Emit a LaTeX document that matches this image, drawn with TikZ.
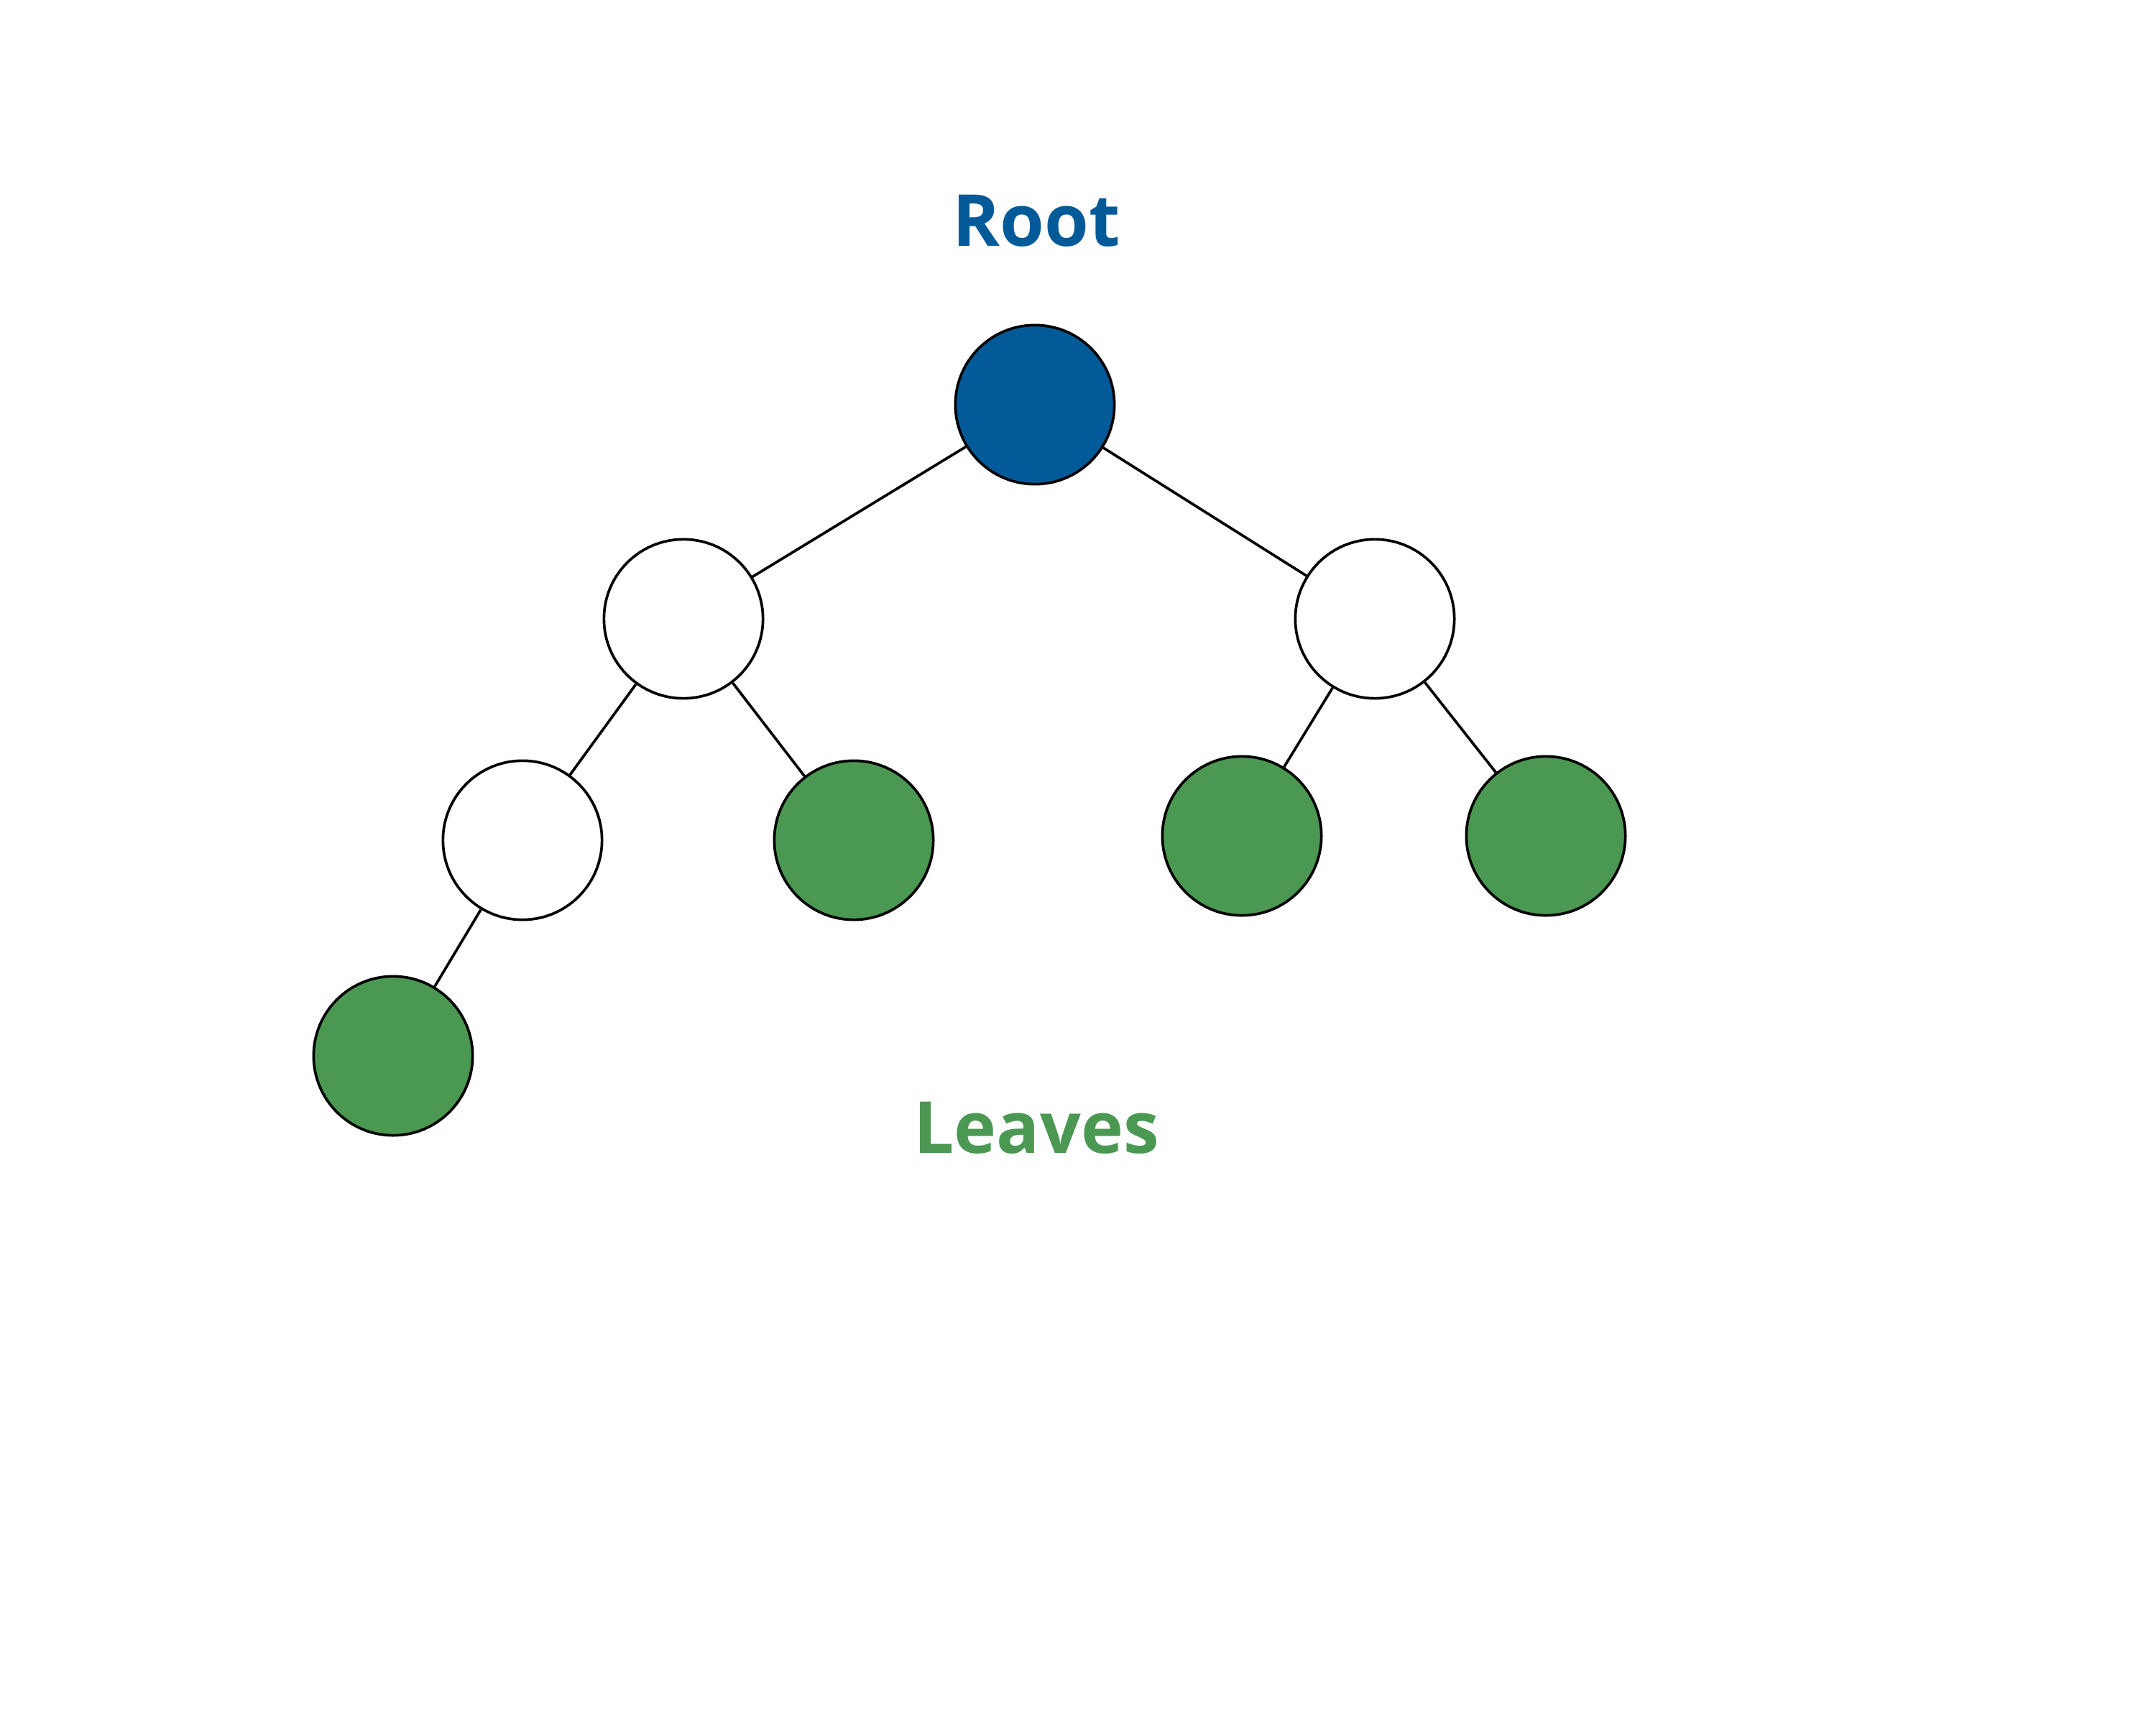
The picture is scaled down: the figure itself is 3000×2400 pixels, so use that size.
\documentclass[tikz,border=0pt]{standalone}
\usepackage{fontspec}
\setmainfont{Open Sans}
\definecolor{rootblue}{HTML}{025B98}
\definecolor{leafgreen}{HTML}{4A9852}
\begin{document}
\begin{tikzpicture}[x=0.01cm,y=-0.01cm,
  treenode/.style={circle,draw=black,line width=1.05pt,minimum size=225*0.01cm-1.05pt,inner sep=0pt,fill=white},
  rootnode/.style={treenode,fill=rootblue},
  leafnode/.style={treenode,fill=leafgreen},
  edge/.style={line width=1.05pt,draw=black},
  lbl/.style={font=\bfseries\fontsize{28.4}{34}\selectfont,anchor=base}]
\useasboundingbox (0,0) rectangle (3000,2400);
\node[rootnode] (r) at (1440,563) {};
\node[treenode] (a) at (951,861) {};
\node[treenode] (b) at (1913,861) {};
\node[treenode] (aa) at (727,1169) {};
\node[leafnode] (ab) at (1188,1169) {};
\node[leafnode] (ba) at (1728,1163) {};
\node[leafnode] (bb) at (2151,1163) {};
\node[leafnode] (aaa) at (547,1469) {};
\draw[edge] (r) -- (a);
\draw[edge] (r) -- (b);
\draw[edge] (a) -- (aa);
\draw[edge] (a) -- (ab);
\draw[edge] (b) -- (ba);
\draw[edge] (b) -- (bb);
\draw[edge] (aa) -- (aaa);
\node[lbl,text=rootblue] (rootlbl) at (1442,342) {Root};
\node[lbl,text=leafgreen] (leaflbl) at (1442,1604) {Leaves};
\end{tikzpicture}
\end{document}
